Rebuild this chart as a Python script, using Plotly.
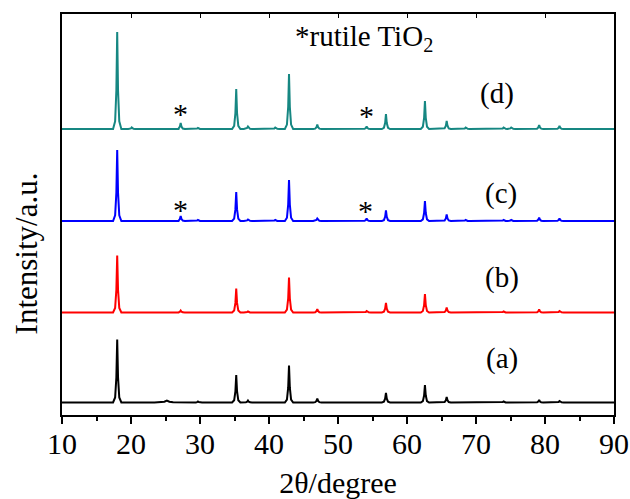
import plotly.graph_objects as go

# ---- data ----
peak_positions = [18.0, 20.1, 25.2, 27.2, 29.7, 35.25, 36.95, 40.9, 42.9, 47.0,
                  54.15, 56.95, 62.6, 65.75, 68.5, 74.0, 75.1, 79.15, 82.1]
peak_halfwidths = [0.6, 0.5, 1.8, 0.6, 0.6, 0.6, 0.6, 0.6, 0.6, 0.6,
                   0.6, 0.6, 0.6, 0.6, 0.6, 0.6, 0.6, 0.6, 0.6]
heights_a = [63, 0, 2, 0, 1, 27.5, 2, 0.5, 37, 4, 0.5, 9.5, 17.5, 5.5, 0.5, 1, 0.5, 2.5, 1.5]
heights_b = [57, 0, 0.5, 2, 0.5, 24, 1, 0.5, 35, 3.5, 1.5, 9.5, 18.5, 5, 0.5, 1, 0.5, 3, 1.5]
heights_c = [71, 0.5, 0.5, 5, 1, 29, 1.5, 1, 41, 2.5, 2.5, 10.5, 20, 6.5, 1, 1, 1, 3.5, 2.5]
heights_d = [97, 1.5, 0.5, 6, 1, 40, 2.5, 1.5, 55, 4.5, 2.5, 15, 28, 8, 1.5, 1.5, 1.5, 4, 3]
baselines = [12.5, 102.5, 194, 286]
series_labels = ["(a)", "(b)", "(c)", "(d)"]
series_colors = ["#000000", "#ff0000", "#0000ff", "#168782"]
label_x = [73.8, 73.8, 73.6, 73.1]
label_y = [57, 138, 222, 322]
star_x = [27.15, 54.2, 27.2, 54.0]
star_y = [302, 300, 206, 205]
x_ticks = [10, 20, 30, 40, 50, 60, 70, 80, 90]

# peak profile (relative offsets in units of half width, fraction of height)
profile_rel = [-1.0, -0.5, -0.2, 0.0, 0.2, 0.5, 1.0]
profile_frac = [0.0, 0.08, 0.4, 1.0, 0.4, 0.08, 0.0]


def pattern(heights, base):
    xs, ys = [10.0], [base]
    for p, w, h in zip(peak_positions, peak_halfwidths, heights):
        if h <= 0:
            continue
        for r, f in zip(profile_rel, profile_frac):
            xs.append(p + r * w)
            ys.append(base + f * h)
    xs.append(90.0)
    ys.append(base)
    return xs, ys


FONT = "Liberation Serif, Times New Roman, serif"
fig = go.Figure()
for heights, base, col in zip([heights_a, heights_b, heights_c, heights_d],
                              baselines, series_colors):
    xs, ys = pattern(heights, base)
    fig.add_trace(go.Scatter(x=xs, y=ys, mode="lines",
                             line=dict(color=col, width=2), showlegend=False,
                             hoverinfo="skip"))
# invisible trace to create the top axis with inward ticks
fig.add_trace(go.Scatter(x=[10, 90], y=[0, 0], xaxis="x2", mode="lines",
                         line=dict(width=0), showlegend=False, hoverinfo="skip"))

for lab, lx, ly in zip(series_labels, label_x, label_y):
    fig.add_annotation(x=lx, y=ly, text=lab, showarrow=False,
                       font=dict(family=FONT, size=29, color="black"))
for sx, sy in zip(star_x, star_y):
    fig.add_annotation(x=sx, y=sy, text="*", showarrow=False,
                       font=dict(family=FONT, size=30, color="black"))
fig.add_annotation(x=53.7, y=377, text="*rutile TiO<sub>2</sub>", showarrow=False,
                   font=dict(family=FONT, size=29, color="black"))
# y-axis title (placed as in the reference, below the vertical centre)
fig.add_annotation(xref="paper", yref="paper", x=-0.0652, y=0.403,
                   text="Intensity/a.u.", textangle=-90, showarrow=False,
                   xanchor="center", yanchor="middle",
                   font=dict(family=FONT, size=31, color="black"))

fig.update_layout(
    width=630, height=499,
    margin=dict(l=62, r=16, t=14, b=84),
    plot_bgcolor="white", paper_bgcolor="white",
    font=dict(family=FONT, color="black"),
    xaxis=dict(range=[10, 90], tickvals=x_ticks, ticks="outside", ticklen=7,
               tickwidth=1.5, tickcolor="black",
               minor=dict(dtick=5, ticks="outside", ticklen=4, tickwidth=1.5,
                          tickcolor="black"),
               showline=True, linecolor="black", linewidth=2, mirror=True,
               showgrid=False, zeroline=False, automargin=False,
               ticklabelstandoff=-6,
               tickfont=dict(family=FONT, size=30),
               title=dict(text="2θ/degree", font=dict(family=FONT, size=30),
                          standoff=13)),
    xaxis2=dict(range=[10, 90], overlaying="x", side="top", tickvals=x_ticks,
                ticks="inside", ticklen=4, tickcolor="black",
                showticklabels=False, showgrid=False, zeroline=False,
                showline=False, automargin=False),
    yaxis=dict(range=[0, 401], showticklabels=False, ticks="",
               showline=True, linecolor="black", linewidth=2, mirror=True,
               showgrid=False, zeroline=False, automargin=False),
)
fig.write_html(
    "out.html",
    config={"displayModeBar": False},
    post_script="document.body.style.margin='0px';"
                "document.documentElement.style.overflow='hidden';",
)
